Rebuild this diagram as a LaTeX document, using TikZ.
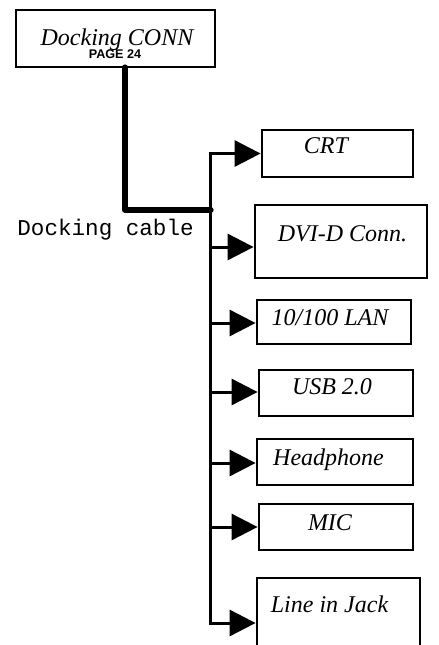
\documentclass[tikz,border=0pt]{standalone}
\usepackage{fontspec}
\setmainfont{Liberation Serif}
\setsansfont{Liberation Sans}
\setmonofont{Liberation Mono}
\usetikzlibrary{arrows.meta}
\begin{document}
\begin{tikzpicture}[x=0.5pt, y=-0.5pt,
    box/.style={draw, line width=1.4pt, inner sep=0pt},
    lbl/.style={anchor=base, inner sep=0pt, font=\itshape\fontsize{12}{14}\selectfont},
    cable/.style={line width=2.6pt, line cap=round, line join=round},
    branch/.style={line width=1.5pt, -{Triangle[length=13pt, width=13pt]}}]
    \useasboundingbox (0,0) rectangle (439,645);
    \clip (0,0) rectangle (439,645);
    \node[box, minimum width=99.5pt, minimum height=28.5pt] (conn) at (115.5,38.5) {};
    \node[lbl] (connt) at (117,45) {Docking CONN};
    \node[anchor=base, inner sep=0pt, font=\sffamily\bfseries\fontsize{6.3}{7}\selectfont] (page) at (115,58) {PAGE 24};
    \node[box, minimum width=75.5pt, minimum height=23.5pt] (crt) at (337.5,153.5) {};
    \node[box, minimum width=86pt, minimum height=36.5pt] (dvi) at (341,241.5) {};
    \node[box, minimum width=77pt, minimum height=22pt] (lan) at (334,322) {};
    \node[box, minimum width=77pt, minimum height=23pt] (usb) at (336,393) {};
    \node[box, minimum width=78pt, minimum height=23pt] (head) at (335,462) {};
    \node[box, minimum width=77pt, minimum height=23pt] (mic) at (336,527) {};
    \node[box, minimum width=81.5pt, minimum height=45pt] (jack) at (338.5,623) {};
    \node[lbl] at (326,153) {CRT};
    \node[lbl] at (342.5,241) {DVI-D Conn.};
    \node[lbl] at (330,325) {10/100 LAN};
    \node[lbl] at (332,394) {USB 2.0};
    \node[lbl] at (328.5,465) {Headphone};
    \node[lbl] at (330,530) {MIC};
    \node[lbl] at (329.5,612) {Line in Jack};
    \node[anchor=base west, inner sep=0pt, font=\ttfamily\fontsize{11.3}{13}\selectfont] (cablet) at (17,235) {Docking cable};
    % docking cable and bus
    \coordinate (cabtop) at (125,67);
    \coordinate (cabjoin) at (211,210);
    \coordinate (busbot) at (211,625);
    \draw[cable] (cabtop) |- (cabjoin);
    \draw[branch] (busbot) |- (crt.west);
    \foreach \y/\b in {247/dvi, 323/lan, 392/usb, 463/head, 527/mic, 623/jack}
        \draw[branch] (211,\y) -- (211,\y -| \b.west);
\end{tikzpicture}
\end{document}
